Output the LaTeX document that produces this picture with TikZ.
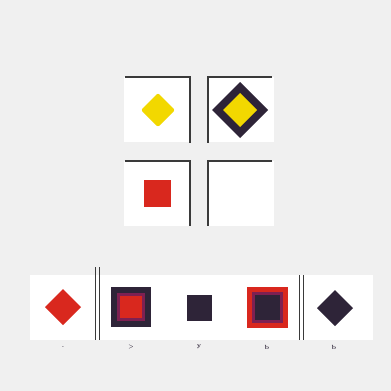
\documentclass[tikz,border=0pt]{standalone}
\usetikzlibrary{shapes.geometric}
\definecolor{bg}{HTML}{F0F0F0}
\definecolor{ylw}{HTML}{F2D800}
\definecolor{drk}{HTML}{2E2438}
\definecolor{rd}{HTML}{D9281E}
\definecolor{mag}{HTML}{7E2052}
\definecolor{ln}{HTML}{3A3A3A}
\tikzset{
  frame/.style={draw=ln, line width=1.1pt},
  mk/.style={font=\fontsize{6}{6}\selectfont\bfseries, text=drk, inner sep=0pt}
}
\begin{document}
\begin{tikzpicture}[x=1pt,y=-1pt]
\fill[bg] (0,0) rectangle (391,391);
\useasboundingbox (0,0) rectangle (391,391);
% top grid cells
\fill[white] (124,77) rectangle (190,142);
\fill[white] (208,77) rectangle (274,142);
\fill[white] (124,161) rectangle (190,226);
\fill[white] (208,161) rectangle (274,226);
\draw[frame] (125,77) -- (190,77) -- (190,143);
\draw[frame] (272,77) -- (208,77) -- (208,143);
\draw[frame] (125,161) -- (190,161) -- (190,226);
\draw[frame] (272,161) -- (208,161) -- (208,226);
% yellow diamond
\fill[ylw, rounded corners=2pt] (158,93) -- (175,110) -- (158,127) -- (141,110) -- cycle;
% framed diamond
\fill[drk] (240,82) -- (268,110) -- (240,138) -- (212,110) -- cycle;
\fill[ylw] (240,93) -- (257,110) -- (240,127) -- (223,110) -- cycle;
% red square
\fill[rd] (144,180) rectangle (171,207);
% bottom strip
\fill[white] (30,275) rectangle (373,340);
\draw[ln, line width=1pt] (95,267) -- (95,340);
\draw[ln, line width=1pt] (99,267) -- (99,340);
\draw[ln, line width=1pt] (299,275) -- (299,340);
\draw[ln, line width=1pt] (303,275) -- (303,340);
% 1 red diamond
\fill[rd] (63,289) -- (81,307) -- (63,325) -- (45,307) -- cycle;
% 2 dark square with red inside
\fill[drk] (111,287) rectangle (151,327);
\fill[mag] (117,293) rectangle (145,321);
\fill[rd] (120,296) rectangle (142,318);
% 3 small dark square
\fill[drk] (187,295) rectangle (212,321);
% 4 red square with dark inside
\fill[rd] (247,287) rectangle (288,328);
\fill[mag] (252,292) rectangle (283,323);
\fill[drk] (255,295) rectangle (280,320);
% 5 dark diamond
\fill[drk] (335,290) -- (353,308) -- (335,326) -- (317,308) -- cycle;
% marks
\node[mk] (m1) at (63,347) {.};
\node[mk] (m2) at (131,347) {>};
\node[mk] (m3) at (199,347) {y};
\node[mk] (m4) at (267,347) {b};
\node[mk] (m5) at (334,347) {b};
\end{tikzpicture}
\end{document}
